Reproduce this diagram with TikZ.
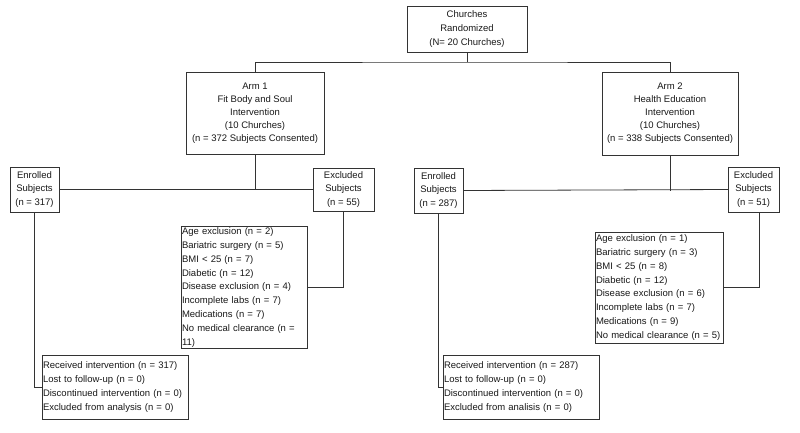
\documentclass[tikz,border=0pt]{standalone}
\usepackage{fontspec}
\setmainfont{Liberation Sans}
\usetikzlibrary{shadows}
\begin{document}
\begin{tikzpicture}[x=1pt,y=-1pt,
  every node/.style={inner sep=1pt, outer sep=0pt, text=black!90},
  box/.style={draw=black!80, line width=0.8pt, fill=white,
    drop shadow={shadow xshift=0.8pt, shadow yshift=-0.8pt, fill=black!35, opacity=0.6},
    align=center, font=\fontsize{9.5}{13.5}\selectfont},
  lbox/.style={box, align=left},
  conn/.style={draw=black!80, line width=0.8pt}]
\useasboundingbox (0,0) rectangle (800,432);
\node[box, minimum width=120, minimum height=46] (top) at (467,29)
  {Churches\\[0.8pt]Randomized\\[0.8pt](N= 20 Churches)};
\node[box, minimum width=138, minimum height=82, font=\fontsize{9.5}{13}\selectfont] (arm1) at (255,113)
  {Arm 1\\Fit Body and Soul\\Intervention\\(10 Churches)\\(n = 372 Subjects Consented)};
\node[box, minimum width=136, minimum height=83, font=\fontsize{9.5}{13}\selectfont] (arm2) at (670,113.5)
  {Arm 2\\Health Education\\Intervention\\(10 Churches)\\(n = 338 Subjects Consented)};
\node[box, minimum width=49, minimum height=45] (enr1) at (34.5,189.5)
  {Enrolled\\Subjects\\(n = 317)};
\node[box, minimum width=61, minimum height=43] (exc1) at (343.5,189.5)
  {Excluded\\Subjects\\(n = 55)};
\node[box, minimum width=49, minimum height=45] (enr2) at (438.5,190.5)
  {Enrolled\\Subjects\\(n = 287)};
\node[box, minimum width=51, minimum height=45] (exc2) at (753.5,189.5)
  {Excluded\\Subjects\\(n = 51)};
\node[lbox, minimum width=126, minimum height=111, text width=124, font=\fontsize{9.5}{13.8}\selectfont] (list1) at (244,287.5)
  {Age exclusion (n = 2)\\Bariatric surgery (n = 5)\\BMI < 25 (n = 7)\\Diabetic (n = 12)\\Disease exclusion (n = 4)\\Incomplete labs (n = 7)\\Medications (n = 7)\\No medical clearance (n =\\11)};
\node[lbox, minimum width=128, minimum height=111, text width=126, font=\fontsize{9.5}{13.8}\selectfont] (list2) at (659,287.5)
  {Age exclusion (n = 1)\\Bariatric surgery (n = 3)\\BMI < 25 (n = 8)\\Diabetic (n = 12)\\Disease exclusion (n = 6)\\Incomplete labs (n = 7)\\Medications (n = 9)\\No medical clearance (n = 5)};
\node[lbox, minimum width=146, minimum height=64, text width=144, font=\fontsize{9.5}{14}\selectfont] (rec1) at (115,387)
  {Received intervention (n = 317)\\Lost to follow-up (n = 0)\\Discontinued intervention (n = 0)\\Excluded from analysis (n = 0)};
\node[lbox, minimum width=156, minimum height=64, text width=154, font=\fontsize{9.5}{14}\selectfont] (rec2) at (521,387)
  {Received intervention (n = 287)\\Lost to follow-up (n = 0)\\Discontinued intervention (n = 0)\\Excluded from analisis (n = 0)};
\coordinate (split) at (467,62);
\coordinate (ex2x) at (759,0);
\draw[conn] (top.south) -- (split);
\draw[conn] (arm1.north) |- (split) -| (arm2.north);
\draw[conn] (enr1.east) -- (exc1.west);
\draw[conn] (arm1.south) -- (arm1.south |- enr1.east);
\draw[conn] (enr2.east) -- (exc2.west);
\draw[conn] (arm2.south) -- (arm2.south |- enr2.east);
\draw[conn] (enr1.south) |- (rec1.west);
\draw[conn] (exc1.south) |- (list1.east);
\draw[conn] (enr2.south) |- (rec2.west);
\draw[conn] (ex2x |- exc2.south) |- (list2.east);
\end{tikzpicture}
\end{document}
